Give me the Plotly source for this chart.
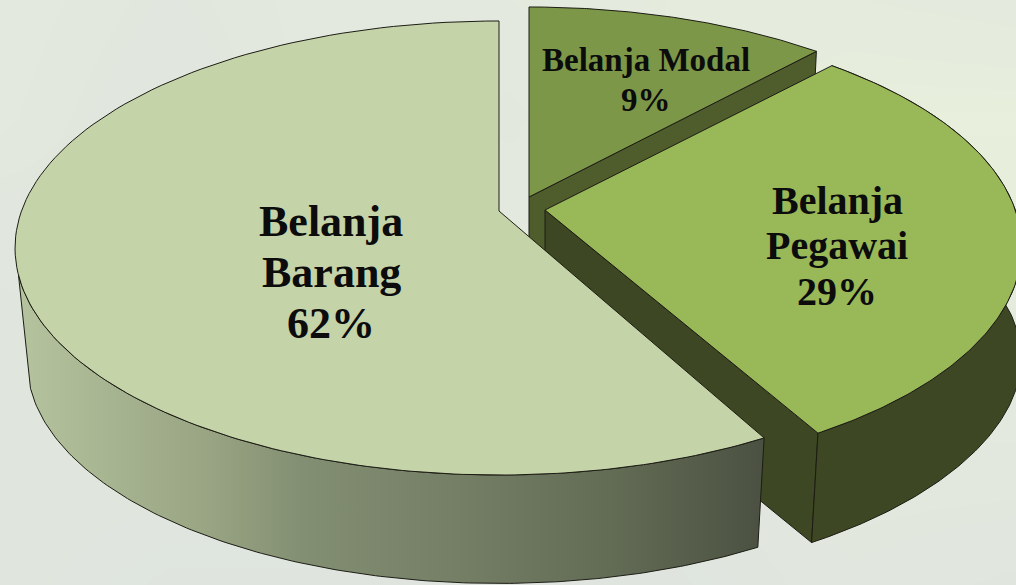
import numpy as np
import plotly.graph_objects as go

# ---- data -------------------------------------------------------------
label_lines = [["Belanja", "Barang"], ["Belanja", "Pegawai"], ["Belanja Modal"]]
shares = [62, 29, 9]
percent_text = [f"{v}%" for v in shares]

top_colors = ["#c5d3a9", "#99b858", "#7d9748"]
wall_colors = [None, "#3e4723", "#4f5c2c"]
edge = "#1c1c14"

# faint washed-out photo behind the chart: green tint estimated on a coarse grid
bg_x = [0, 170, 340, 510, 680, 850, 1016]
bg_y = [0, 117, 234, 351, 468, 585]
bg_tint = [
    [0.5, 0.3, 0.5, 0.5, 0.6, 0.6, 0.5],
    [0.45, 0.2, 0.5, 0.4, 0.6, 0.9, 0.9],
    [0.25, 0.3, 0.5, 0.5, 0.6, 0.8, 0.8],
    [0.2, 0.2, 0.4, 0.4, 0.5, 0.5, 0.5],
    [0.2, 0.2, 0.2, 0.2, 0.2, 0.4, 0.4],
    [0.2, 0.1, 0.1, 0.1, 0.1, 0.3, 0.2],
]

W, H = 1016, 585
# projection of the tilted pie
SX, SY, K = 477.5, 221.0, 0.163
DROP, SHRINK = 115.0, 0.975
apex = {0: (499, 211), 1: (545, 210), 2: (529, 197)}
x_scale = {0: 1.0, 1: 0.985, 2: 1.0}
trim = {0: (0, 0), 1: (2.0, -0.5), 2: (0, 0)}   # small angular corrections of the view
BG = "#e2e7e0"


def screen_angle(u):
    """Cumulative pie angle (deg, ccw from top) -> drawn angle of the 3-D view."""
    r = np.radians(u)
    return u + 20.25 * np.sin(r) - 0.94 * np.sin(2 * r)


def project(i, u, low=False):
    ax, ay = apex[i]
    t = np.radians(90 + screen_angle(np.asarray(u, float)))
    X, Y = np.cos(t), np.sin(t)
    w = 1 + K * Y
    px, py = x_scale[i] * SX * X / w, -SY * Y / w
    if low:
        sx = SHRINK + (1 - SHRINK) * np.clip(X, 0, 1) ** 4
        return ax + sx * px, ay + DROP + SHRINK * py
    return ax + px, ay + py


bounds = np.cumsum([0] + shares) * 360.0 / sum(shares)
fig = go.Figure()

fig.add_trace(go.Heatmap(x=bg_x, y=bg_y, z=bg_tint, zmin=0, zmax=1, zsmooth="best",
                         colorscale=[[0, "#dee3df"], [1, "#e9f0dc"]],
                         showscale=False, hoverinfo="skip"))


def poly(xs, ys, color=None, gradient=None):
    kw = dict(fillgradient=gradient) if gradient else dict(fillcolor=color)
    fig.add_trace(go.Scatter(x=xs, y=ys, mode="lines", fill="toself",
                             line=dict(color=edge, width=1), hoverinfo="skip",
                             showlegend=False, **kw))


def arc(i, a=None):
    a = bounds[i] + trim[i][0] if a is None else a
    b = bounds[i + 1] + trim[i][1]
    return np.linspace(a, b, 160)


def edge_wall(i, u, color):
    ax, ay = apex[i]
    ox, oy = project(i, u)
    lx, ly = project(i, u, low=True)
    poly([ax, ox, lx, ax, ax], [ay, oy, ly, ay + DROP, ay], color)


def top(i):
    ax, ay = apex[i]
    x, y = project(i, arc(i))
    poly(np.r_[ax, x, ax], np.r_[ay, y, ay], top_colors[i])


def rim_wall(i, color=None, gradient=None, start=None):
    u = arc(i, a=start)
    x1, y1 = project(i, u)
    x2, y2 = project(i, u, low=True)
    poly(np.r_[x1, x2[::-1], x1[0]], np.r_[y1, y2[::-1], y1[0]], color, gradient)


# back slice
edge_wall(2, bounds[2], wall_colors[2])
top(2)
# right slice
edge_wall(1, bounds[1] + trim[1][0], wall_colors[1])
rim_wall(1, color=wall_colors[1])
top(1)
# front slice
rim_wall(0, start=86, gradient=dict(
    type="horizontal",
    colorscale=[[0, "#b5c39e"], [0.25, "#99a583"], [0.38, "#838f72"],
                [0.6, "#737e65"], [0.8, "#626b54"], [1, "#4b5142"]]))
top(0)

# ---- labels -----------------------------------------------------------
label_pos = [(331, 221, 51, 44), (837, 200, 45.5, 40), (646, 60, 40, 33)]
for lines, pct, (cx, cy, step, size) in zip(label_lines, percent_text, label_pos):
    for n, txt in enumerate(lines + [pct]):
        fig.add_annotation(x=cx, y=cy + n * step, text=f"<b>{txt}</b>", showarrow=False,
                           font=dict(family="Liberation Serif", size=size, color="#0c0c0c"),
                           xanchor="center", yanchor="middle")

fig.update_xaxes(range=[0, W], visible=False, fixedrange=True)
fig.update_yaxes(range=[H, 0], visible=False, fixedrange=True)
fig.update_layout(width=W, height=H, margin=dict(l=0, r=0, t=0, b=0), autosize=False,
                  paper_bgcolor=BG, plot_bgcolor=BG, showlegend=False)
fig.write_html("out.html", config=dict(displayModeBar=False),
               post_script="document.body.style.margin='0';document.documentElement.style.overflow='hidden';")
